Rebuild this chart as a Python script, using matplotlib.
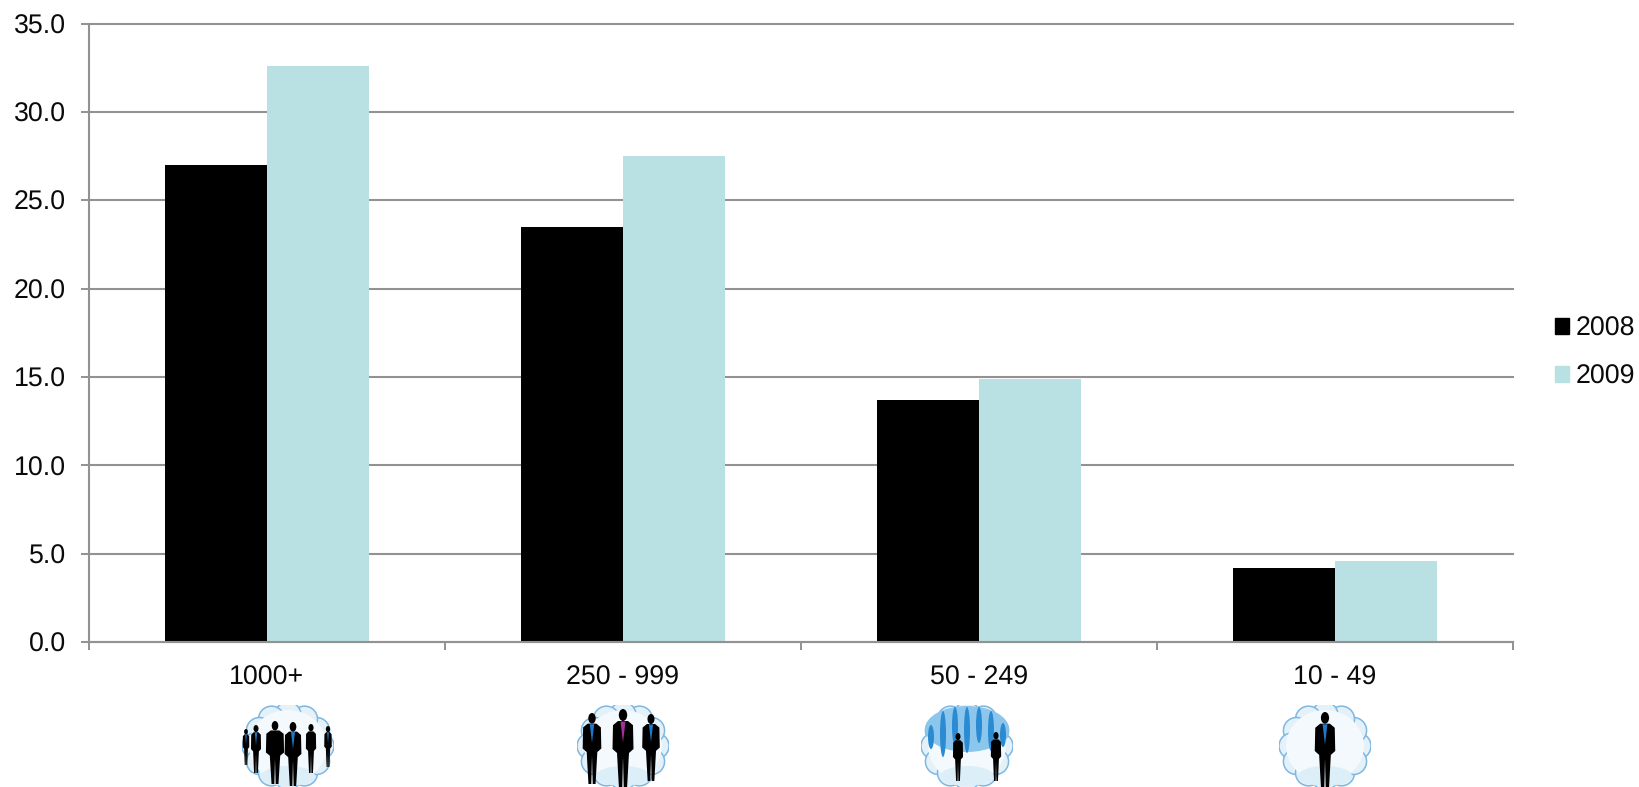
import numpy as np
import matplotlib
matplotlib.use("Agg")
import matplotlib.pyplot as plt
from matplotlib.patches import Circle, Ellipse, Polygon, Patch

categories = ["1000+", "250 - 999", "50 - 249", "10 - 49"]
values_2008 = [27.0, 23.5, 13.7, 4.2]
values_2009 = [32.6, 27.5, 14.9, 4.6]
series_labels = ["2008", "2009"]
y_ticks = [0, 5, 10, 15, 20, 25, 30, 35]

BLACK = "#000000"
TEAL = "#B9E0E3"
GREY = "#929292"
W, H = 1639, 787

plt.rcParams["font.family"] = ["Liberation Sans", "DejaVu Sans"]
plt.rcParams["text.hinting"] = "no_hinting"
fig = plt.figure(figsize=(W / 100, H / 100), dpi=100)
ax = fig.add_axes([89 / W, 1 - 642.3 / H, (1513 - 89) / W, (642.3 - 23.5) / H])

bw = 102 / 356
x = np.arange(len(categories))
ax.bar(x - bw / 2, values_2008, bw, color=BLACK, zorder=3)
ax.bar(x + bw / 2, values_2009, bw, color=TEAL, zorder=3)

ax.set_xlim(-0.5, 3.5)
ax.set_ylim(0, 35)
ax.set_yticks(y_ticks)
ax.set_yticklabels([f"{v:.1f}" for v in y_ticks])
ax.set_xticks(np.arange(-0.5, 4, 1))
ax.set_xticklabels([])
ax.set_xticks(x, minor=True)
ax.set_xticklabels(categories, minor=True)
ax.tick_params(axis="y", length=5.8, width=1.4, color=GREY, labelsize=19.3, pad=11, labelcolor="#0A0A0A")
ax.tick_params(axis="x", which="major", length=5.8, width=1.4, color=GREY)
ax.tick_params(axis="x", which="minor", length=0, labelsize=19.3, pad=16.5, labelcolor="#0A0A0A")
ax.grid(axis="y", color=GREY, lw=1.5, zorder=1)
for gl in ax.get_ygridlines():
    gl.set_clip_on(False)
ax.set_axisbelow(True)
for s in ["top", "right"]:
    ax.spines[s].set_visible(False)
for s in ["left", "bottom"]:
    ax.spines[s].set_color(GREY)
    ax.spines[s].set_linewidth(1.5)
    ax.spines[s].set_zorder(4)

handles = [Patch(color=BLACK), Patch(color=TEAL)]
leg = fig.legend(handles, series_labels, loc="center left",
                 bbox_to_anchor=(1555 / W, 1 - 352.5 / H), bbox_transform=fig.transFigure,
                 frameon=False, fontsize=19.3, handlelength=0.54, handleheight=0.54,
                 handletextpad=0.22, labelspacing=0.84, borderpad=0, borderaxespad=0,
                 labelcolor="#0A0A0A")


def person(a, cx, top, bottom, tie, w=1.0):
    h = top - bottom
    head = 0.075 * h
    sw = 0.125 * h * w
    a.add_patch(Ellipse((cx, top - head), head * 1.4, head * 2, fc="black", ec="none", zorder=5))
    body = [(cx - sw * .5, top - 2 * head), (cx + sw * .5, top - 2 * head),
            (cx + sw, top - 2.7 * head), (cx + sw * 1.05, top - .5 * h),
            (cx + sw * .6, top - .55 * h), (cx + sw * .4, bottom),
            (cx + sw * .08, bottom), (cx, top - .6 * h), (cx - sw * .08, bottom),
            (cx - sw * .4, bottom), (cx - sw * .6, top - .55 * h),
            (cx - sw * 1.05, top - .5 * h), (cx - sw, top - 2.7 * head)]
    a.add_patch(Polygon(body, fc="black", ec="none", zorder=5))
    if tie:
        a.add_patch(Polygon([(cx - sw * .25, top - 2.1 * head), (cx + sw * .25, top - 2.1 * head),
                             (cx, top - .42 * h)], fc=tie, ec="none", zorder=6))


# icon layout: left pixel, then (x, top, bottom, tie, width) per figure, in icon pixels
BL = "#1F78C8"
icons = [
    (242, [(4, 58, 22, BL, .7), (14, 62, 14, BL, .8), (33, 66, 3, None, 1.1),
           (51, 65, 1, BL, 1.0), (69, 63, 14, None, .8), (86, 61, 20, BL, .7)], False),
    (577, [(15, 74, 3, BL, 1.0), (46, 78, -2, "#A0309A", 1.0), (74, 73, 6, BL, 1.0)], False),
    (921, [(37, 54, 6, None, .8), (75, 55, 6, None, .8)], True),
    (1279, [(46, 75, -3, BL, 1.0)], False),
]
for left, people, streaks in icons:
    a = fig.add_axes([left / W, 0, 92 / W, 82 / H])
    a.set_xlim(0, 92)
    a.set_ylim(0, 82)
    a.axis("off")
    n = 12
    for th in np.linspace(0, 2 * np.pi, n, endpoint=False):
        a.add_patch(Circle((46 + 33 * np.cos(th), 41 + 31 * np.sin(th)), 13,
                           fc="#E4F1F9", ec="#7DB8E2", lw=1.1, zorder=2))
    a.add_patch(Ellipse((46, 41), 78, 72, fc="#F3F9FD", ec="none", zorder=3))
    a.add_patch(Ellipse((46, 11), 54, 20, fc="#DCEFF9", ec="none", zorder=3))
    if streaks:
        a.add_patch(Ellipse((46, 58), 84, 46, fc="#8CC6EC", ec="none", zorder=3.5))
        for sx, st, sb in [(10, 62, 38), (22, 76, 30), (34, 80, 42), (46, 80, 34),
                           (58, 80, 44), (70, 76, 36), (82, 64, 40)]:
            a.add_patch(Ellipse((sx, (st + sb) / 2), 6, st - sb, fc="#2A8AD2", ec="none", zorder=4))
    for cx, top, bottom, tie, wd in people:
        person(a, cx, top, bottom, tie, wd)

fig.savefig("out.png", dpi=100, facecolor="white")
